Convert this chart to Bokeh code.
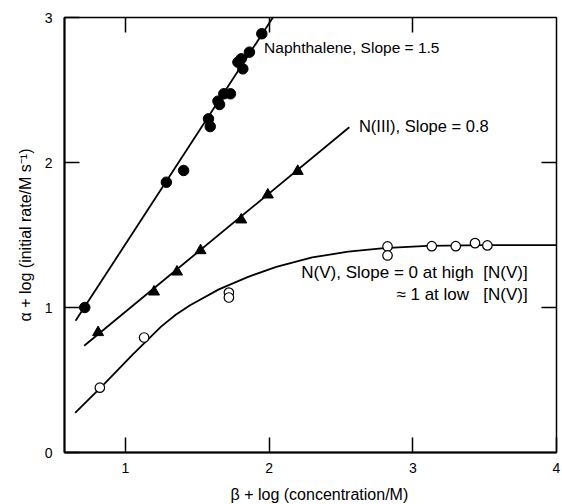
from bokeh.plotting import figure
from bokeh.models import Range1d, LinearAxis, FixedTicker, Label
from bokeh.embed import file_html
from bokeh.resources import INLINE

# ---- data ----
naph_x = [0.717, 1.285, 1.405, 1.578, 1.590, 1.644, 1.655, 1.685, 1.731, 1.783, 1.806, 1.817, 1.863, 1.949]
naph_y = [1.000, 1.864, 1.945, 2.301, 2.248, 2.423, 2.400, 2.474, 2.474, 2.692, 2.715, 2.646, 2.761, 2.888]
naph_fit_x = [0.653, 2.040]
naph_fit_y = [0.908, 3.021]

n3_x = [0.810, 1.199, 1.359, 1.523, 1.806, 1.991, 2.199]
n3_y = [0.828, 1.108, 1.246, 1.393, 1.605, 1.777, 1.940]
n3_fit_x = [0.713, 2.558]
n3_fit_y = [0.736, 2.243]

n5_x = [0.822, 1.130, 1.720, 1.720, 2.824, 2.824, 3.132, 3.299, 3.433, 3.519]
n5_y = [0.447, 0.793, 1.103, 1.069, 1.421, 1.359, 1.423, 1.423, 1.444, 1.428]
n5_curve_x = [0.650, 0.850, 1.050, 1.250, 1.350, 1.450, 1.650, 1.850, 2.050, 2.300, 2.550, 2.800, 3.100, 3.500, 4.000]
n5_curve_y = [0.274, 0.470, 0.675, 0.870, 0.950, 1.015, 1.125, 1.210, 1.280, 1.345, 1.385, 1.410, 1.425, 1.430, 1.430]

x_ticks = [1, 2, 3, 4]
y_ticks = [0, 1, 2, 3]
top_ticks = [1, 2, 3]
right_ticks = [1, 2]

FONT = "Liberation Sans"

p = figure(output_backend="svg", toolbar_location=None,
           frame_width=492, frame_height=435,
           x_range=Range1d(0.576, 4.0), y_range=Range1d(0, 3.0),
           min_border_left=64, min_border_right=5, min_border_top=17, min_border_bottom=50)
p.background_fill_color = "white"
p.border_fill_color = "white"
p.grid.visible = False
p.outline_line_color = "black"
p.outline_line_width = 1.5

for ax in (p.xaxis[0], p.yaxis[0]):
    ax.axis_line_width = 2
    ax.axis_line_color = "black"
    ax.major_tick_in = 15
    ax.major_tick_out = 0
    ax.major_tick_line_width = 1.5
    ax.major_tick_line_color = "black"
    ax.minor_tick_line_color = None
    ax.major_label_text_font = FONT
    ax.major_label_text_font_size = "14px"
    ax.major_label_text_color = "black"
    ax.axis_label_text_font = FONT
    ax.axis_label_text_font_size = "16px"
    ax.axis_label_text_font_style = "normal"
    ax.axis_label_text_color = "black"

p.xaxis.ticker = FixedTicker(ticks=x_ticks)
p.yaxis.ticker = FixedTicker(ticks=y_ticks)
p.xaxis.axis_label = "\u00a0\u00a0\u00a0\u00a0β + log (concentration/M)"
p.yaxis.axis_label = "α + log (initial rate/M s⁻¹)"
p.xaxis.major_label_standoff = 10
p.yaxis.major_label_standoff = 12
p.xaxis.axis_label_standoff = 10
p.yaxis.axis_label_standoff = 8

top = LinearAxis(ticker=FixedTicker(ticks=top_ticks), axis_line_color=None,
                 major_tick_in=15, major_tick_out=0, major_tick_line_width=1.5,
                 major_tick_line_color="black",
                 minor_tick_line_color=None, major_label_text_font_size="1px",
                 major_label_text_color=None, major_label_standoff=0)
right = LinearAxis(ticker=FixedTicker(ticks=right_ticks), axis_line_color=None,
                   major_tick_in=15, major_tick_out=0, major_tick_line_width=1.5,
                   major_tick_line_color="black",
                   minor_tick_line_color=None, major_label_text_font_size="1px",
                   major_label_text_color=None, major_label_standoff=0)
p.add_layout(top, "above")
p.add_layout(right, "right")

# fits
p.line(naph_fit_x, naph_fit_y, line_color="black", line_width=1.8)
p.line(n3_fit_x, n3_fit_y, line_color="black", line_width=1.8)
p.line(n5_curve_x, n5_curve_y, line_color="black", line_width=1.8)

# points
p.scatter(naph_x, naph_y, marker="circle", size=10.5, fill_color="black", line_color="black")
p.scatter(n3_x, n3_y, marker="triangle", size=11, fill_color="black", line_color="black")
p.scatter(n5_x, n5_y, marker="circle", size=9.5, fill_color="white", line_color="black", line_width=1.2)

# labels
lab_kw = dict(text_font=FONT, text_color="black", text_baseline="middle")
p.add_layout(Label(x=1.965, y=2.793, text="Naphthalene, Slope = 1.5", text_font_size="15.5px", **lab_kw))
p.add_layout(Label(x=2.625, y=2.255, text="N(III), Slope = 0.8", text_font_size="16.5px", **lab_kw))
p.add_layout(Label(x=3.799, y=1.241, text="N(V), Slope = 0 at high\u00a0 [N(V)]",
                   text_align="right", text_font_size="17px", **lab_kw))
p.add_layout(Label(x=3.799, y=1.090, text="≈ 1 at low\u00a0\u00a0 [N(V)]",
                   text_align="right", text_font_size="17px", **lab_kw))

open("out.html", "w").write(file_html(p, INLINE))
